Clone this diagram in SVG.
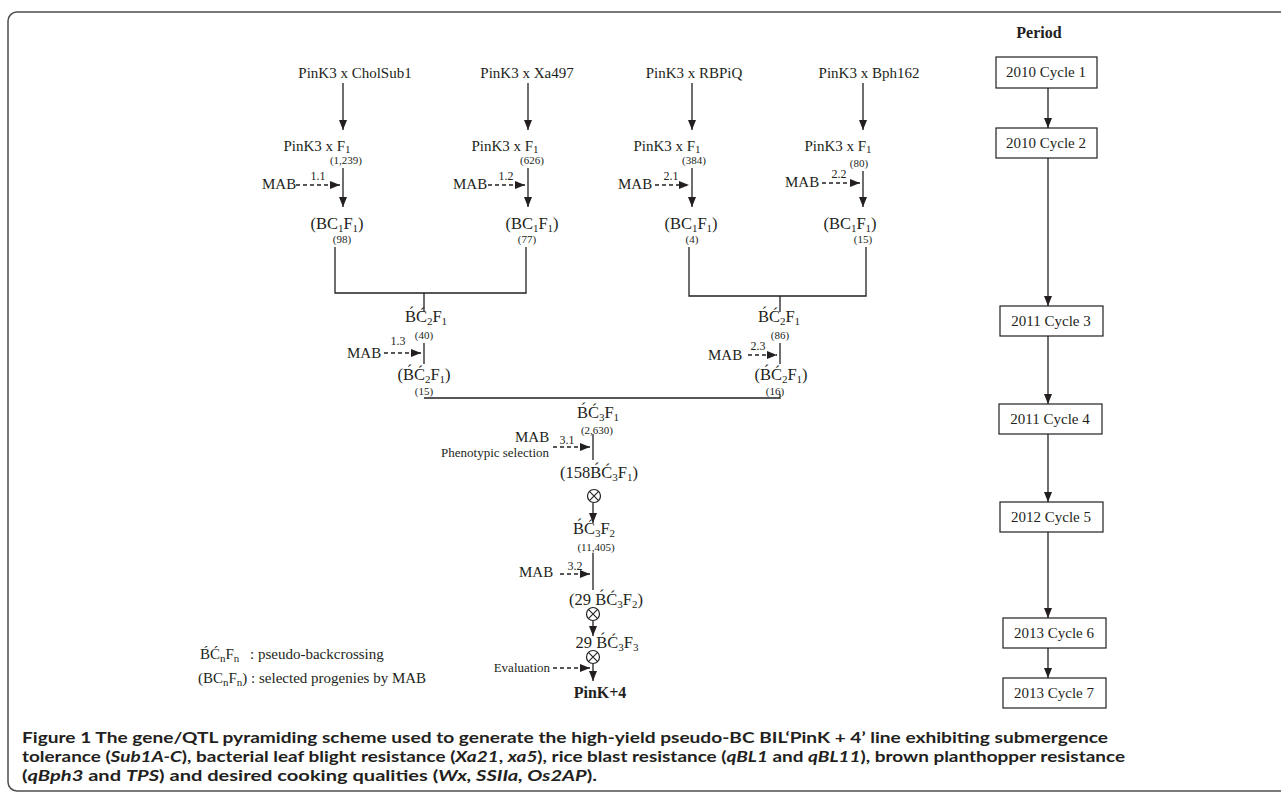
<svg xmlns="http://www.w3.org/2000/svg" width="1281" height="804" viewBox="0 0 1281 804">
<defs>
<style>
.t{font-family:"Liberation Serif",serif;font-size:15px;fill:#231f20}
.g{font-family:"Liberation Serif",serif;font-size:16.5px;fill:#231f20}
.n{font-family:"Liberation Serif",serif;font-size:11px;fill:#231f20}
.l{font-family:"Liberation Serif",serif;font-size:12px;fill:#231f20}
.ph{font-family:"Liberation Serif",serif;font-size:13px;fill:#231f20}
.b{font-family:"Liberation Serif",serif;font-size:16px;font-weight:bold;fill:#231f20}
.cap{font-family:Lato,"Open Sans",sans-serif;font-size:16px;font-weight:bold;fill:#231f20}
.s{font-size:11px}
.ln{stroke:#231f20;stroke-width:1.3;fill:none}
.ar{stroke:#231f20;stroke-width:1.3;fill:none;marker-end:url(#ah)}
.da{stroke:#231f20;stroke-width:1.3;fill:none;stroke-dasharray:4 3;marker-end:url(#ah)}
.box{fill:#fff;stroke:#231f20;stroke-width:1.2}
.x{stroke:#231f20;stroke-width:1.2;fill:#fff}
</style>
<marker id="ah" viewBox="0 0 10 8" refX="10" refY="4" markerWidth="10" markerHeight="8" markerUnits="userSpaceOnUse" orient="auto">
<path d="M0,0 L10,4 L0,8 z" fill="#231f20" stroke="none"/>
</marker>
<g id="otimes">
<circle cx="0" cy="0" r="6.5" class="x"/>
<path d="M-4.6,-4.6 L4.6,4.6 M-4.6,4.6 L4.6,-4.6" stroke="#231f20" stroke-width="1.1"/>
</g>
</defs>

<rect x="8" y="12" width="1290" height="779" rx="9" fill="none" stroke="#4d4d4d" stroke-width="1.5"/>

<g id="connectors">
<line class="ar" x1="343" y1="83" x2="343" y2="130"/>
<line class="ar" x1="528" y1="83" x2="528" y2="130"/>
<line class="ar" x1="692" y1="83" x2="692" y2="130"/>
<line class="ar" x1="863" y1="83" x2="863" y2="130"/>
<line class="ar" x1="343" y1="168" x2="343" y2="207"/>
<line class="ar" x1="528" y1="168" x2="528" y2="207"/>
<line class="ar" x1="692" y1="168" x2="692" y2="207"/>
<line class="ar" x1="863" y1="171" x2="863" y2="207"/>
<line class="da" x1="296" y1="185" x2="340" y2="185"/>
<line class="da" x1="488" y1="185" x2="525" y2="185"/>
<line class="da" x1="655" y1="185" x2="689" y2="185"/>
<line class="da" x1="822" y1="183" x2="860" y2="183"/>
<path class="ln" d="M335,247 V293 H526 V247 M424,293 V312"/>
<path class="ln" d="M689,247 V296 H866 V247 M780,296 V312"/>
<line class="ln" x1="424" y1="343" x2="424" y2="364"/>
<line class="da" x1="384" y1="353" x2="421" y2="353"/>
<line class="ln" x1="780" y1="343" x2="780" y2="364"/>
<line class="da" x1="748" y1="355" x2="777" y2="355"/>
<path class="ln" d="M424,398 H780 V394"/>
<line class="ln" x1="593" y1="434" x2="593" y2="460"/>
<line class="da" x1="553" y1="447" x2="590" y2="447"/>
<line class="ar" x1="593" y1="503" x2="593" y2="523"/>
<line class="ln" x1="593" y1="553" x2="593" y2="590"/>
<line class="da" x1="560" y1="574" x2="590" y2="574"/>
<line class="ar" x1="593" y1="621" x2="593" y2="636"/>
<line class="ar" x1="593" y1="664" x2="593" y2="681"/>
<line class="da" x1="553" y1="668" x2="590" y2="668"/>
<line class="ar" x1="1048" y1="88" x2="1048" y2="128"/>
<line class="ar" x1="1048" y1="158" x2="1048" y2="306"/>
<line class="ar" x1="1048" y1="336" x2="1048" y2="404"/>
<line class="ar" x1="1048" y1="434" x2="1048" y2="502"/>
<line class="ar" x1="1048" y1="532" x2="1048" y2="618"/>
<line class="ar" x1="1048" y1="648" x2="1048" y2="678"/>
</g>

<g id="col1">
<text class="t" x="355" y="78" text-anchor="middle">PinK3 x CholSub1</text>
<text class="t" x="317" y="151" text-anchor="middle">PinK3 x F<tspan class="s" dy="2">1</tspan></text>
<text class="n" x="346" y="164" text-anchor="middle">(1,239)</text>
<text class="t" x="262" y="189">MAB</text>
<text class="l" x="318" y="180" text-anchor="middle">1.1</text>
<text class="g" x="337" y="229" text-anchor="middle">(BC<tspan class="s" dy="3">1</tspan><tspan dy="-3">F</tspan><tspan class="s" dy="3">1</tspan><tspan dy="-3">)</tspan></text>
<text class="n" x="342" y="243" text-anchor="middle">(98)</text>
</g>

<g id="col2">
<text class="t" x="527" y="78" text-anchor="middle">PinK3 x Xa497</text>
<text class="t" x="505" y="151" text-anchor="middle">PinK3 x F<tspan class="s" dy="2">1</tspan></text>
<text class="n" x="532" y="164" text-anchor="middle">(626)</text>
<text class="t" x="453" y="189">MAB</text>
<text class="l" x="506" y="180" text-anchor="middle">1.2</text>
<text class="g" x="532" y="229" text-anchor="middle">(BC<tspan class="s" dy="3">1</tspan><tspan dy="-3">F</tspan><tspan class="s" dy="3">1</tspan><tspan dy="-3">)</tspan></text>
<text class="n" x="527" y="243" text-anchor="middle">(77)</text>
</g>

<g id="col3">
<text class="t" x="694" y="78" text-anchor="middle">PinK3 x RBPiQ</text>
<text class="t" x="667" y="151" text-anchor="middle">PinK3 x F<tspan class="s" dy="2">1</tspan></text>
<text class="n" x="694" y="164" text-anchor="middle">(384)</text>
<text class="t" x="618" y="189">MAB</text>
<text class="l" x="671" y="180" text-anchor="middle">2.1</text>
<text class="g" x="691" y="229" text-anchor="middle">(BC<tspan class="s" dy="3">1</tspan><tspan dy="-3">F</tspan><tspan class="s" dy="3">1</tspan><tspan dy="-3">)</tspan></text>
<text class="n" x="692" y="243" text-anchor="middle">(4)</text>
</g>

<g id="col4">
<text class="t" x="869" y="78" text-anchor="middle">PinK3 x Bph162</text>
<text class="t" x="838" y="151" text-anchor="middle">PinK3 x F<tspan class="s" dy="2">1</tspan></text>
<text class="n" x="859" y="167" text-anchor="middle">(80)</text>
<text class="t" x="785" y="187">MAB</text>
<text class="l" x="839" y="178" text-anchor="middle">2.2</text>
<text class="g" x="850" y="229" text-anchor="middle">(BC<tspan class="s" dy="3">1</tspan><tspan dy="-3">F</tspan><tspan class="s" dy="3">1</tspan><tspan dy="-3">)</tspan></text>
<text class="n" x="863" y="243" text-anchor="middle">(15)</text>
</g>

<g id="left-bc2">
<text class="g" x="426" y="322" text-anchor="middle">B&#x301;&#x106;<tspan class="s" dy="3">2</tspan><tspan dy="-3">F</tspan><tspan class="s" dy="3">1</tspan></text>
<text class="n" x="424" y="339" text-anchor="middle">(40)</text>
<text class="t" x="347" y="358">MAB</text>
<text class="l" x="398" y="345" text-anchor="middle">1.3</text>
<text class="g" x="424" y="380" text-anchor="middle">(B&#x301;&#x106;<tspan class="s" dy="3">2</tspan><tspan dy="-3">F</tspan><tspan class="s" dy="3">1</tspan><tspan dy="-3">)</tspan></text>
<text class="n" x="424" y="395" text-anchor="middle">(15)</text>
</g>

<g id="right-bc2">
<text class="g" x="779" y="322" text-anchor="middle">B&#x301;&#x106;<tspan class="s" dy="3">2</tspan><tspan dy="-3">F</tspan><tspan class="s" dy="3">1</tspan></text>
<text class="n" x="780" y="339" text-anchor="middle">(86)</text>
<text class="t" x="708" y="360">MAB</text>
<text class="l" x="758" y="350" text-anchor="middle">2.3</text>
<text class="g" x="781" y="380" text-anchor="middle">(B&#x301;&#x106;<tspan class="s" dy="3">2</tspan><tspan dy="-3">F</tspan><tspan class="s" dy="3">1</tspan><tspan dy="-3">)</tspan></text>
<text class="n" x="775" y="395" text-anchor="middle">(16)</text>
</g>

<g id="bc3f1">
<text class="g" x="598" y="418" text-anchor="middle">B&#x301;&#x106;<tspan class="s" dy="3">3</tspan><tspan dy="-3">F</tspan><tspan class="s" dy="3">1</tspan></text>
<text class="n" x="597" y="434" text-anchor="middle">(2,630)</text>
<text class="t" x="515" y="442">MAB</text>
<text class="l" x="567" y="444" text-anchor="middle">3.1</text>
<text class="ph" x="549" y="457" text-anchor="end">Phenotypic selection</text>
<text class="g" x="599" y="478" text-anchor="middle">(158B&#x301;&#x106;<tspan class="s" dy="3">3</tspan><tspan dy="-3">F</tspan><tspan class="s" dy="3">1</tspan><tspan dy="-3">)</tspan></text>
<use href="#otimes" x="594" y="496"/>
</g>

<g id="bc3f2">
<text class="g" x="594" y="534" text-anchor="middle">B&#x301;&#x106;<tspan class="s" dy="3">3</tspan><tspan dy="-3">F</tspan><tspan class="s" dy="3">2</tspan></text>
<text class="n" x="596" y="551" text-anchor="middle">(11,405)</text>
<text class="t" x="519" y="577">MAB</text>
<text class="l" x="575" y="570" text-anchor="middle">3.2</text>
<text class="g" x="606" y="605" text-anchor="middle">(29 B&#x301;&#x106;<tspan class="s" dy="3">3</tspan><tspan dy="-3">F</tspan><tspan class="s" dy="3">2</tspan><tspan dy="-3">)</tspan></text>
<use href="#otimes" x="593" y="614"/>
</g>

<g id="bc3f3">
<text class="g" x="607" y="648" text-anchor="middle">29 B&#x301;&#x106;<tspan class="s" dy="3">3</tspan><tspan dy="-3">F</tspan><tspan class="s" dy="3">3</tspan></text>
<use href="#otimes" x="593" y="657"/>
<text class="ph" x="550" y="672" text-anchor="end">Evaluation</text>
<text class="b" x="600" y="698" text-anchor="middle">PinK+4</text>
</g>

<g id="legend">
<text class="t" x="200" y="659">B&#x301;&#x106;<tspan class="s" dy="3">n</tspan><tspan dy="-3">F</tspan><tspan class="s" dy="3">n</tspan></text>
<text class="t" x="250" y="659">: pseudo-backcrossing</text>
<text class="t" x="198" y="683">(BC<tspan class="s" dy="3">n</tspan><tspan dy="-3">F</tspan><tspan class="s" dy="3">n</tspan><tspan dy="-3">) : selected progenies by MAB</tspan></text>
</g>

<g id="period">
<text class="b" x="1039" y="38" text-anchor="middle">Period</text>
<g id="cycle1"><rect class="box" x="996" y="57" width="101" height="31"/><text class="t" x="1046" y="77" text-anchor="middle">2010 Cycle 1</text></g>
<g id="cycle2"><rect class="box" x="996" y="128" width="101" height="30"/><text class="t" x="1046" y="148" text-anchor="middle">2010 Cycle 2</text></g>
<g id="cycle3"><rect class="box" x="1000" y="306" width="103" height="30"/><text class="t" x="1051" y="326" text-anchor="middle">2011 Cycle 3</text></g>
<g id="cycle4"><rect class="box" x="999" y="404" width="103" height="30"/><text class="t" x="1050" y="424" text-anchor="middle">2011 Cycle 4</text></g>
<g id="cycle5"><rect class="box" x="1000" y="502" width="103" height="30"/><text class="t" x="1051" y="522" text-anchor="middle">2012 Cycle 5</text></g>
<g id="cycle6"><rect class="box" x="1003" y="618" width="103" height="30"/><text class="t" x="1054" y="638" text-anchor="middle">2013 Cycle 6</text></g>
<g id="cycle7"><rect class="box" x="1003" y="678" width="103" height="30"/><text class="t" x="1054" y="698" text-anchor="middle">2013 Cycle 7</text></g>
</g>

<g id="caption">
<text class="cap" x="22" y="743" textLength="1086" lengthAdjust="spacingAndGlyphs">Figure 1 The gene/QTL pyramiding scheme used to generate the high-yield pseudo-BC BIL‘PinK + 4’ line exhibiting submergence</text>
<text class="cap" x="22" y="762" textLength="1103" lengthAdjust="spacingAndGlyphs">tolerance (<tspan font-style="italic">Sub1A-C</tspan>), bacterial leaf blight resistance (<tspan font-style="italic">Xa21</tspan>, <tspan font-style="italic">xa5</tspan>), rice blast resistance (<tspan font-style="italic">qBL1</tspan> and <tspan font-style="italic">qBL11</tspan>), brown planthopper resistance</text>
<text class="cap" x="22" y="781" textLength="575" lengthAdjust="spacingAndGlyphs">(<tspan font-style="italic">qBph3</tspan> and <tspan font-style="italic">TPS</tspan>) and desired cooking qualities (<tspan font-style="italic">Wx, SSIIa, Os2AP</tspan>).</text>
</g>
</svg>
